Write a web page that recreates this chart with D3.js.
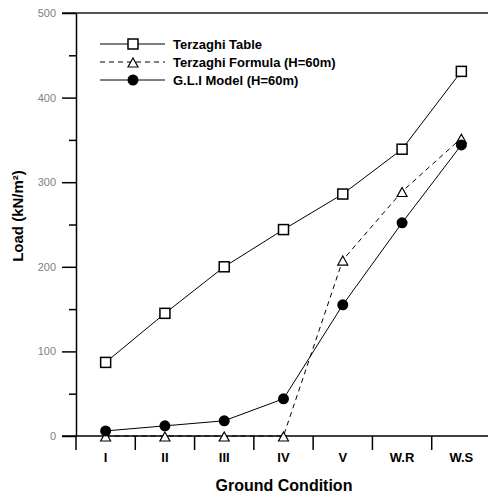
<!DOCTYPE html>
<html>
<head>
<meta charset="utf-8">
<script src="https://cdn.jsdelivr.net/npm/d3@7"></script>
<style>
body { margin: 0; background: #fff; }
text { font-family: "Liberation Sans", Arial, sans-serif; }
</style>
</head>
<body>
<svg width="488" height="497"></svg>
<script>
// Data.
var categories = ["I", "II", "III", "IV", "V", "W.R", "W.S"];
var terzaghiTable = [87, 145, 200, 244, 286, 339, 431];
var terzaghiFormula = [0, 0, 0, 0, 208, 289, 352];
var gliModel = [6, 12, 18, 44, 155, 252, 344];
var yTicks = [0, 100, 200, 300, 400, 500];
var yMinorTicks = [50, 150, 250, 350, 450];

var series = [
	{ name: "Terzaghi Table", values: terzaghiTable, marker: "square", dash: null },
	{ name: "Terzaghi Formula (H=60m)", values: terzaghiFormula, marker: "triangle", dash: "5,4" },
	{ name: "G.L.I Model (H=60m)", values: gliModel, marker: "circle", dash: null }
];

var svg = d3.select("svg");

var x = d3.scaleBand().domain(categories).range([76, 491]).padding(0);
var y = d3.scaleLinear().domain([0, 500]).range([436, 13]);

function cx(c) {
	return x(c) + x.bandwidth() / 2;
}

// Top border line.
svg.append("line")
	.attr("x1", 62).attr("x2", 488)
	.attr("y1", y(500)).attr("y2", y(500))
	.attr("stroke", "#555").attr("stroke-width", 2);

// Y axis, major ticks.
var yAxis = svg.append("g")
	.attr("transform", "translate(76,0)")
	.call(d3.axisLeft(y).tickValues(yTicks).tickSize(14).tickPadding(6).tickSizeOuter(0));
yAxis.select(".domain").attr("stroke", "#000").attr("stroke-width", 1.5);
yAxis.selectAll(".tick line").attr("stroke", "#000").attr("stroke-width", 1.5);
yAxis.selectAll(".tick text")
	.attr("fill", "#808080")
	.style("font-size", "11px")
	.style("font-family", "Liberation Sans, Arial, sans-serif");

// Y axis, minor ticks.
svg.append("g")
	.attr("transform", "translate(76,0)")
	.call(d3.axisLeft(y).tickValues(yMinorTicks).tickSize(7).tickFormat(""))
	.call(function(g) {
		g.select(".domain").remove();
		g.selectAll(".tick line").attr("stroke", "#000").attr("stroke-width", 1.5);
	});

// X axis line.
svg.append("line")
	.attr("x1", 62).attr("x2", 488)
	.attr("y1", y(0)).attr("y2", y(0))
	.attr("stroke", "#000").attr("stroke-width", 1.5);

// X axis ticks on band boundaries.
svg.append("g")
	.selectAll("line")
	.data(categories)
	.enter()
	.append("line")
	.attr("x1", function(d) { return x(d); })
	.attr("x2", function(d) { return x(d); })
	.attr("y1", y(0))
	.attr("y2", y(0) + 14)
	.attr("stroke", "#000")
	.attr("stroke-width", 1.5);

// X tick labels.
svg.append("g")
	.selectAll("text")
	.data(categories)
	.enter()
	.append("text")
	.attr("x", function(d) { return cx(d); })
	.attr("y", 462)
	.attr("text-anchor", "middle")
	.style("font-size", "13px")
	.style("font-weight", "bold")
	.text(function(d) { return d; });

// Axis titles.
svg.append("text")
	.attr("x", 284)
	.attr("y", 491)
	.attr("text-anchor", "middle")
	.style("font-size", "16px")
	.style("font-weight", "bold")
	.text("Ground Condition");

svg.append("text")
	.attr("transform", "translate(23,216) rotate(-90)")
	.attr("text-anchor", "middle")
	.style("font-size", "15px")
	.style("font-weight", "bold")
	.text("Load (kN/m²)");

// Draw a marker.
function drawMarker(g, type, px, py) {
	if (type === "square") {
		g.append("rect")
			.attr("x", px - 5).attr("y", py - 5)
			.attr("width", 10).attr("height", 10)
			.attr("fill", "#fff").attr("stroke", "#000").attr("stroke-width", 1.5);
	} else if (type === "triangle") {
		g.append("path")
			.attr("d", "M" + px + "," + (py - 4) + "L" + (px + 5) + "," + (py + 5) + "L" + (px - 5) + "," + (py + 5) + "Z")
			.attr("fill", "#fff").attr("stroke", "#000").attr("stroke-width", 1.2);
	} else {
		g.append("circle")
			.attr("cx", px).attr("cy", py).attr("r", 5.5)
			.attr("fill", "#000");
	}
}

var line = d3.line()
	.x(function(d) { return cx(d.c); })
	.y(function(d) { return y(d.v); });

series.forEach(function(s) {
	var pts = categories.map(function(c, i) { return { c: c, v: s.values[i] }; });
	var g = svg.append("g");
	g.append("path")
		.attr("d", line(pts))
		.attr("fill", "none")
		.attr("stroke", "#000")
		.attr("stroke-width", 1)
		.attr("stroke-dasharray", s.dash);
	pts.forEach(function(p) {
		drawMarker(g, s.marker, cx(p.c), y(p.v));
	});
});

// Legend.
var legend = svg.append("g");
series.forEach(function(s, i) {
	var ly = 44 + i * 18;
	var g = legend.append("g");
	g.append("line")
		.attr("x1", 100).attr("x2", 165)
		.attr("y1", ly).attr("y2", ly)
		.attr("stroke", "#000")
		.attr("stroke-width", 1)
		.attr("stroke-dasharray", s.dash);
	drawMarker(g, s.marker, 133, ly);
	g.append("text")
		.attr("x", 173)
		.attr("y", ly + 5)
		.style("font-size", "13px")
		.style("font-weight", "bold")
		.text(s.name);
});
</script>
</body>
</html>
